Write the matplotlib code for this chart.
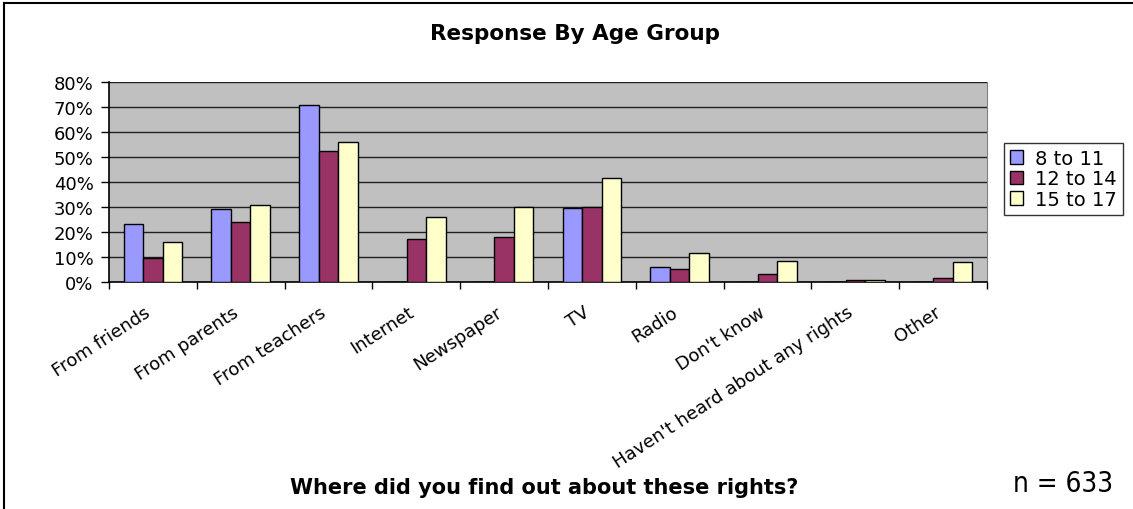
import matplotlib
matplotlib.use('Agg')
import matplotlib.pyplot as plt
import matplotlib.transforms as mtransforms
from matplotlib.lines import Line2D
import numpy as np

# data (fractions)
categories = ['From friends', 'From parents', 'From teachers', 'Internet',
              'Newspaper', 'TV', 'Radio', "Don't know",
              "Haven't heard about any rights", 'Other']
age_8_11 = [0.233, 0.294, 0.708, 0.0, 0.0, 0.295, 0.060, 0.0, 0.0, 0.0]
age_12_14 = [0.098, 0.241, 0.526, 0.172, 0.181, 0.299, 0.052, 0.031, 0.008, 0.016]
age_15_17 = [0.160, 0.307, 0.562, 0.262, 0.299, 0.416, 0.116, 0.085, 0.008, 0.080]
series_names = ['8 to 11', '12 to 14', '15 to 17']
colors = ['#9999FF', '#993366', '#FFFFCC']
yticks = np.arange(0, 0.81, 0.1)

W, H = 1133, 510
fig = plt.figure(figsize=(W / 100, H / 100), dpi=100)
fig.patch.set_facecolor('white')

# plot area in pixel coords -> figure fractions
left, right, top, bottom = 109, 987, 83, 283
ax = fig.add_axes([left / W, 1 - bottom / H, (right - left) / W, (bottom - top) / H])
ax.set_facecolor('#C0C0C0')

x = np.arange(len(categories))
bw = 1 / 4.5
for i, (vals, name, c) in enumerate(zip([age_8_11, age_12_14, age_15_17], series_names, colors)):
    ax.bar(x + (i - 1) * bw, vals, width=bw, color=c, edgecolor='black',
           linewidth=1.0, label=name, zorder=3)

ax.set_ylim(0, 0.8)
ax.set_xlim(-0.5, len(categories) - 0.5)
ax.set_yticks(yticks)
ax.set_yticklabels([f'{int(round(t * 100))}%' for t in yticks], fontsize=13)
ax.yaxis.grid(True, color='#202020', linewidth=1.0, zorder=1)
ax.set_axisbelow(True)

# category labels at centres, ticks at the boundaries
ax.set_xticks(x)
ax.set_xticks(np.arange(-0.5, len(categories)), minor=True)
ax.tick_params(axis='x', which='major', length=0, pad=15)
ax.tick_params(axis='x', which='minor', length=5, width=1, color='black')
ax.tick_params(axis='y', length=6, width=1, pad=5)
ax.set_xticklabels(categories, fontsize=13, rotation=33, ha='right',
                   va='top', rotation_mode='anchor')
shift = mtransforms.ScaledTranslation(-9 / 100, 0, fig.dpi_scale_trans)
for lab in ax.get_xticklabels():
    lab.set_transform(lab.get_transform() + shift)

for s in ['left', 'bottom']:
    ax.spines[s].set_color('black')
    ax.spines[s].set_linewidth(1.2)
ax.spines['top'].set_visible(False)
ax.spines['right'].set_color('#808080')

leg = fig.legend(loc='upper left', bbox_to_anchor=(1004 / W, 1 - 144 / H),
                 fontsize=14, frameon=True, fancybox=False, edgecolor='black',
                 handlelength=0.7, handleheight=0.7, handletextpad=0.6,
                 labelspacing=0.08, borderpad=0.3, borderaxespad=0)
leg.get_frame().set_linewidth(1.0)

fig.text(575 / W, 1 - 34 / H, 'Response By Age Group', ha='center', va='center',
         fontsize=15.5, fontweight='bold')
fig.text(544 / W, 1 - 488 / H, 'Where did you find out about these rights?',
         ha='center', va='center', fontsize=15, fontweight='bold')
fig.text(1113 / W, 1 - 484 / H, 'n = 633', ha='right', va='center', fontsize=20,
         family='DejaVu Sans', fontstretch='condensed')

# chart border (left and top edges visible in the reference)
fig.add_artist(Line2D([4 / W, 4 / W], [0, 1 - 4 / H], color='black', lw=1.5))
fig.add_artist(Line2D([4 / W, 1], [1 - 4 / H, 1 - 4 / H], color='black', lw=1.5))

fig.savefig('out.png', dpi=100, facecolor='white')
